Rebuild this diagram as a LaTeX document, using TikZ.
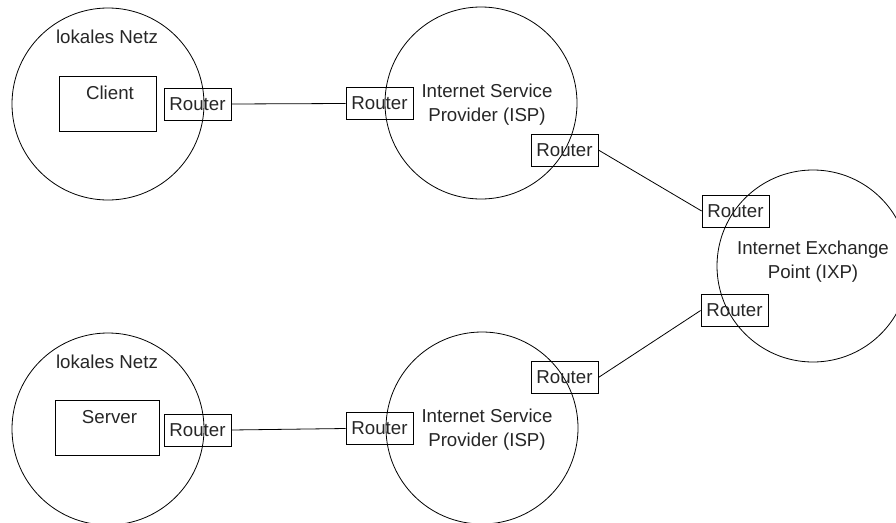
\documentclass[tikz,border=0pt]{standalone}
\usepackage{fontspec}
\setmainfont{Liberation Sans}
\begin{document}
\begin{tikzpicture}[x=1pt,y=-1pt,
  every node/.style={font=\fontsize{18.7}{24}\selectfont, text=black!85},
  net/.style={draw, circle, minimum size=192pt, inner sep=0pt, line width=0.8pt},
  router/.style={draw, rectangle, minimum width=67pt, minimum height=32pt, inner sep=0pt, line width=0.8pt},
  host/.style={draw, rectangle, minimum height=55pt, inner sep=0pt, line width=0.8pt},
  txt/.style={inner sep=0pt, align=center},
  link/.style={line width=0.8pt}]
\useasboundingbox (0,0) rectangle (896,522);
% networks
\node[net] (lan1) at (108,104) {};
\node[net] (lan2) at (108,429) {};
\node[net] (isp1) at (481,103) {};
\node[net] (isp2) at (482,428) {};
\node[net] (ixp) at (813,266) {};
% labels of networks
\node[txt] (lan1t) at (107,37) {lokales Netz};
\node[txt] (lan2t) at (107,362) {lokales Netz};
\node[txt] (isp1t) at (487,105) {Internet Service\\Provider (ISP)};
\node[txt] (isp2t) at (487,429.5) {Internet Service\\Provider (ISP)};
\node[txt] (ixpt) at (813,262) {Internet Exchange\\Point (IXP)};
% hosts
\node[host, minimum width=97pt] (client) at (107.5,103.5) {};
\node[txt] (clientt) at (110,93) {Client};
\node[host, minimum width=104pt] (server) at (107,427.5) {};
\node[txt] (servert) at (109.5,417) {Server};
% routers
\node[router] (r1) at (197.5,104) {Router};
\node[router] (r2) at (379.5,103.5) {Router};
\node[router] (r3) at (564.5,150) {Router};
\node[router] (r4) at (735.5,211) {Router};
\node[router] (r5) at (734.5,310.5) {Router};
\node[router] (r6) at (564.5,377.5) {Router};
\node[router] (r7) at (379.5,428.5) {Router};
\node[router] (r8) at (197.5,430) {Router};
% links
\draw[link] (r1.east) -- (r2.west);
\draw[link] (r3.east) -- (r4.west);
\draw[link] (r6.east) -- (r5.west);
\draw[link] (r8.east) -- (r7.west);
\end{tikzpicture}
\end{document}
